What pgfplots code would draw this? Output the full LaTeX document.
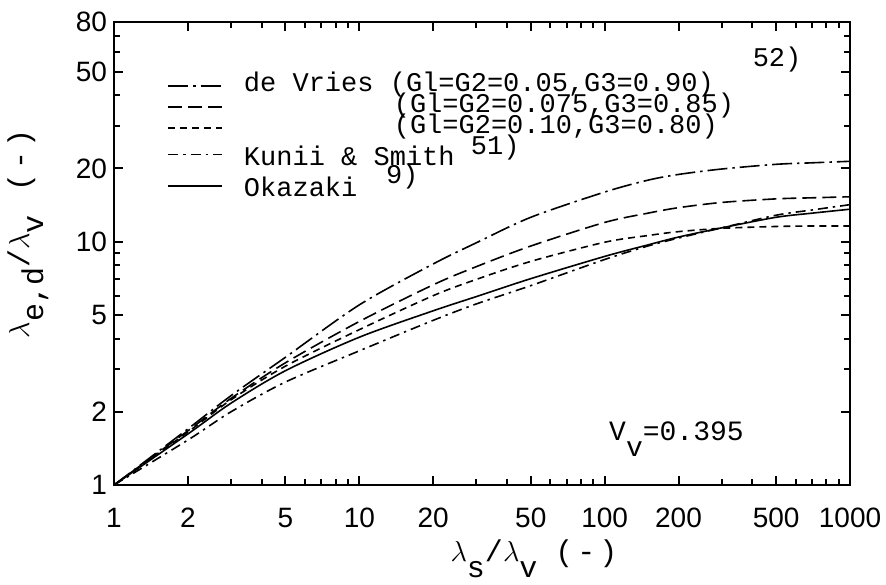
\documentclass[border=0pt]{standalone}
\usepackage{fontspec}
\setmainfont{Liberation Mono}
\newfontfamily\sansf{Liberation Sans}
\usepackage{pgfplots}
\usepackage{pgfplotstable}
\pgfplotsset{compat=1.18}
\pgfplotstableread{
x A B C D E
1 1 1 1 1 1
2 1.70 1.67 1.65 1.62 1.53
3 2.33 2.27 2.24 2.17 2.00
5 3.35 3.18 3.08 2.95 2.65
10 5.5 4.7 4.35 4.05 3.56
20 8.1 6.65 6.0 5.2 4.75
30 9.9 7.9 7.0 5.95 5.55
50 12.6 9.6 8.3 7.05 6.6
100 16.0 12.0 9.95 8.7 8.45
150 17.9 13.1 10.6 9.7 9.6
200 18.9 13.8 11.0 10.45 10.35
300 19.9 14.5 11.35 11.4 11.4
500 20.8 15.0 11.55 12.6 12.85
700 21.1 15.15 11.6 13.1 13.5
1000 21.4 15.3 11.6 13.6 14.2
}\data
\begin{document}
\begin{tikzpicture}
\begin{axis}[
  xmode=log, ymode=log,
  scale only axis,
  width=368pt, height=231.5pt,
  xmin=1, xmax=1000, ymin=1, ymax=80,
  xtick={1,2,5,10,20,50,100,200,500,1000},
  xticklabels={\mbox{1},\mbox{2},\mbox{5},\mbox{10},\mbox{20},\mbox{50},\mbox{100},\mbox{200},\mbox{500},\mbox{1000}},
  minor xtick={3,4,6,7,8,9,30,40,60,70,80,90,300,400,600,700,800,900},
  ytick={1,2,5,10,20,50,80},
  yticklabels={\mbox{1},\mbox{2},\mbox{5},\mbox{10},\mbox{20},\mbox{50},\mbox{80}},
  minor ytick={3,4,6,7,8,9,30,40,60,70},
  tick align=inside,
  major tick length=4.5pt, minor tick length=3pt,
  axis line style={line width=1.4pt},
  every tick/.style={line width=1pt, black},
  ticklabel style={font=\sansf\fontsize{14}{14}\selectfont},
  xticklabel style={yshift=-8pt},
  /pgf/number format/assume math mode=true,
  xlabel={$\lambda$\raisebox{-8pt}{s}/$\lambda$\raisebox{-8pt}{v}\hspace{0.6em}(\hspace{2pt}-\hspace{2pt})},
  ylabel={$\lambda$\raisebox{-7pt}{e,d}/$\lambda$\raisebox{-7pt}{v}\hspace{0.8em}(\hspace{2pt}-\hspace{2pt})},
  every axis x label/.style={at={(rel axis cs:0.5,0)}, anchor=north, xshift=26pt, yshift=-24pt, font=\fontsize{15}{15}\selectfont},
  every axis y label/.style={at={(rel axis cs:-0.117,0.543)}, rotate=90, anchor=center, font=\fontsize{15}{15}\selectfont},
  legend cell align=left,
  legend image code/.code={\draw[#1] (0pt,0pt) -- (27pt,0pt);},
  legend style={draw=none, fill=none, at={(rel axis cs:0.072,0.8855)}, anchor=north west,
    font=\fontsize{13.5}{13.5}\selectfont, row sep=0pt, inner sep=0pt,
    nodes={inner sep=0pt, text height=8pt, text depth=2.5pt},
    /tikz/every odd column/.append style={column sep=10.5pt}},
  every axis plot/.append style={line width=0.8pt, black},
]
\addplot[smooth, dash pattern=on 10pt off 2.5pt on 1.2pt off 2.5pt] table[x=x,y=A]{\data};
\addlegendentry{de Vries (Gl=G2=0.05,G3=0.90)}
\addplot[smooth, dash pattern=on 7pt off 3pt] table[x=x,y=B]{\data};
\addlegendentry{\phantom{de Vries }\hspace{2pt}(Gl=G2=0.075,G3=0.85)}
\addplot[smooth, dash pattern=on 3.5pt off 2.5pt] table[x=x,y=C]{\data};
\addlegendentry{\phantom{de Vries }\hspace{2pt}(Gl=G2=0.10,G3=0.80)}
\addplot[smooth, dash pattern=on 5pt off 2.5pt on 1.2pt off 2.5pt] table[x=x,y=E]{\data};
\addlegendentry[text height=13.5pt]{Kunii \& Smith}
\addplot[smooth] table[x=x,y=D]{\data};
\addlegendentry[text height=13pt]{Okazaki}
\node[anchor=base west, inner sep=0pt, font=\fontsize{13.5}{13.5}\selectfont] at (axis cs:400,52.5) {52)};
\node[anchor=base west, inner sep=0pt, font=\fontsize{13.5}{13.5}\selectfont] at (axis cs:28.4,22.8) {51)};
\node[anchor=base west, inner sep=0pt, font=\fontsize{13.5}{13.5}\selectfont] at (axis cs:12.8,17.4) {9)};
\node[anchor=base west, inner sep=0pt, font=\fontsize{14}{14}\selectfont] at (axis cs:104,1.53) {V\raisebox{-8pt}{v}=0.395};
\end{axis}
\pgfresetboundingbox
\path ([xshift=-57pt,yshift=-50pt]current axis.south west) rectangle ([xshift=18pt,yshift=11pt]current axis.north east);
\end{tikzpicture}
\end{document}
